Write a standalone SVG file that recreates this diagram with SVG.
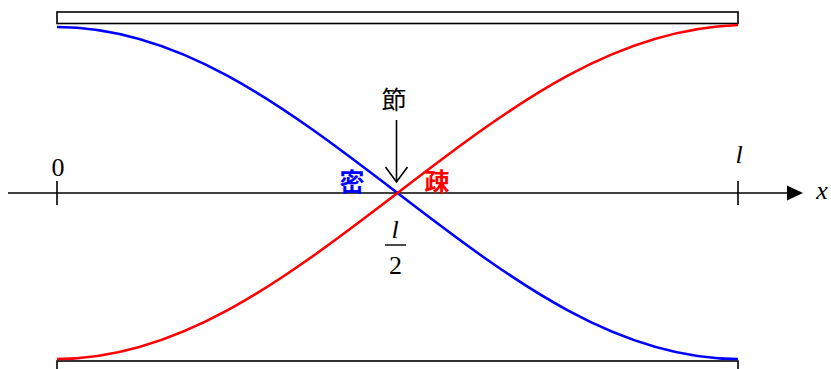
<svg xmlns="http://www.w3.org/2000/svg" width="831" height="369" viewBox="0 0 831 369">
<style>
.frame{fill:#fff;stroke:#000;stroke-width:1.6}
.axis{fill:none;stroke:#000;stroke-width:1.6}
.curve{fill:none;stroke-width:2.6;stroke-linejoin:round;stroke-linecap:butt}
.lab{font-family:"Liberation Serif","Times New Roman",serif;font-size:26px;fill:#000}
.it{font-style:italic}
.cjk{font-family:"Noto Sans CJK JP","Noto Sans CJK SC",sans-serif;font-size:25px}
</style>
<rect id="top-plate" class="frame" x="57" y="12" width="681" height="11.5"/>
<rect id="bottom-plate" class="frame" x="57" y="361" width="681" height="12"/>
<g id="axis">
<line class="axis" x1="8" y1="193" x2="790" y2="193"/>
<polygon points="787,185.5 803,193 787,200.5" fill="#000"/>
<line class="axis" x1="57" y1="181" x2="57" y2="205"/>
<line class="axis" x1="738" y1="181" x2="738" y2="205"/>
<text class="lab" x="58" y="176" text-anchor="middle">0</text>
<text class="lab it" x="739" y="163" text-anchor="middle">l</text>
<text class="lab it" x="822" y="199" text-anchor="middle">x</text>
</g>
<g id="connectors">
<path id="blue-curve" class="curve" stroke="#0000ff" d="M57,27 C113.75,27 170.5,44.89 227.25,75.62 C284,106.35 340.75,149.54 397.5,193 C454.25,236.46 511,279.65 567.75,310.38 C624.5,341.11 681.25,359 738,359"/>
<path id="red-curve" class="curve" stroke="#ff0000" d="M57,359 C113.75,359 170.5,341.11 227.25,310.38 C284,279.65 340.75,236.46 397.5,193 C454.25,149.54 511,106.35 567.75,75.62 C624.5,44.89 681.25,27 738,25"/>
<g id="node-arrow" fill="none" stroke="#000" stroke-width="1.6">
<line x1="396.5" y1="120" x2="396.5" y2="182"/>
<polyline points="385.5,167 396.5,182 407.5,167"/>
</g>
</g>
<g id="node-label">
<text class="cjk" x="394" y="109" text-anchor="middle" fill="#000">節</text>
</g>
<g id="dense-label">
<text class="cjk" x="352" y="191" text-anchor="middle" fill="#0000ff" font-weight="bold">密</text>
</g>
<g id="sparse-label">
<text class="cjk" x="437" y="191" text-anchor="middle" fill="#ff0000" font-weight="bold">疎</text>
</g>
<g id="half-label">
<text class="lab it" x="395" y="238" text-anchor="middle">l</text>
<line x1="385" y1="245" x2="406" y2="245" stroke="#000" stroke-width="1.4"/>
<text class="lab" x="395.5" y="274" text-anchor="middle">2</text>
</g>
</svg>
